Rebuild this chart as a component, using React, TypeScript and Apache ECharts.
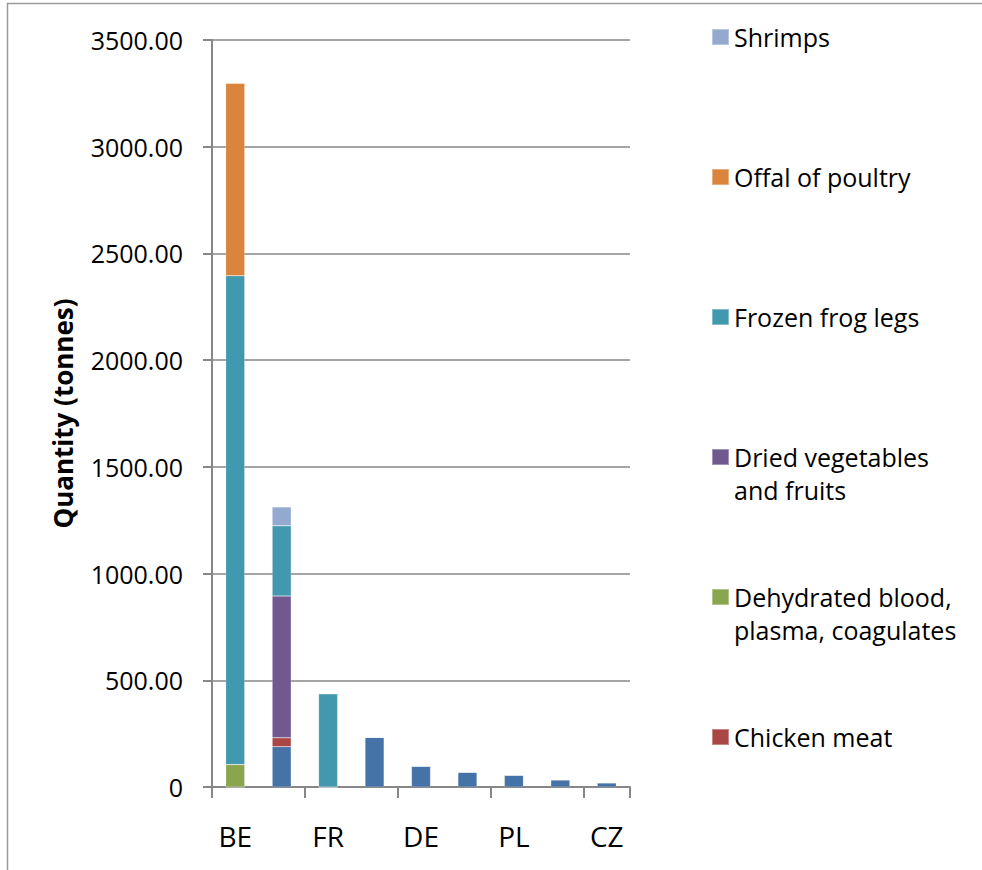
import React, { useEffect, useRef } from "react";
import * as echarts from "echarts";

const categories = ["BE", "NL", "FR", "IT", "DE", "ES", "PL", "AT", "CZ"];
const otherProducts = [0, 189, 0, 233, 98, 70, 56, 34, 20];
const chickenMeat = [0, 42, 0, 0, 0, 0, 0, 0, 0];
const dehydratedBlood = [105, 0, 0, 0, 0, 0, 0, 0, 0];
const driedVegetables = [0, 664, 0, 0, 0, 0, 0, 0, 0];
const frozenFrogLegs = [2290, 329, 437, 0, 0, 0, 0, 0, 0];
const offalOfPoultry = [902, 0, 0, 0, 0, 0, 0, 0, 0];
const shrimps = [0, 88, 0, 0, 0, 0, 0, 0, 0];

const FONT = "'Open Sans', 'Liberation Sans', sans-serif";

export default function App() {
  const ref = useRef<HTMLDivElement>(null);
  useEffect(() => {
    document.body.style.margin = "0";
    const chart = echarts.init(ref.current!, null, { renderer: "svg" });

    const seriesDefs = [
      { name: "Other products", data: otherProducts, color: "#4572A7" },
      { name: "Chicken meat", data: chickenMeat, color: "#AA4643" },
      { name: "Dehydrated blood,\nplasma, coagulates", data: dehydratedBlood, color: "#89A54E" },
      { name: "Dried vegetables\nand fruits", data: driedVegetables, color: "#71588F" },
      { name: "Frozen frog legs", data: frozenFrogLegs, color: "#4198AF" },
      { name: "Offal of poultry", data: offalOfPoultry, color: "#DB843D" },
      { name: "Shrimps", data: shrimps, color: "#93A9CF" },
    ];

    const legendItems = [
      { name: "Shrimps", cy: 37, lines: 1 },
      { name: "Offal of poultry", cy: 177, lines: 1 },
      { name: "Frozen frog legs", cy: 317, lines: 1 },
      { name: "Dried vegetables\nand fruits", cy: 457, lines: 2 },
      { name: "Dehydrated blood,\nplasma, coagulates", cy: 597, lines: 2 },
      { name: "Chicken meat", cy: 737, lines: 1 },
    ];
    const LH = 33;

    chart.setOption({
      animation: false,
      color: seriesDefs.map((s) => s.color),
      grid: { left: 212, top: 40, right: 352, bottom: 83, containLabel: false },
      legend: legendItems.map((it) => ({
        show: true,
        orient: "vertical",
        left: 711,
        top: it.lines === 1 ? it.cy - LH / 2 : it.cy - (LH * 3) / 2,
        padding: 0,
        itemWidth: 17,
        itemHeight: 16,
        icon: "rect",
        selectedMode: false,
        data: [it.name],
        formatter: (name: string) => (it.lines === 1 ? name : "\n" + name),
        textStyle: {
          fontFamily: FONT,
          fontSize: 25,
          color: "#000",
          lineHeight: LH,
        },
      })),
      xAxis: {
        type: "category",
        data: categories,
        axisLine: { lineStyle: { color: "#878787", width: 2 } },
        axisTick: { show: true, length: 11, lineStyle: { color: "#878787", width: 2 } },
        axisLabel: { interval: 1, margin: 35, fontFamily: FONT, fontSize: 28, color: "#000" },
      },
      yAxis: {
        type: "value",
        min: 0,
        max: 3500,
        interval: 500,
        name: "Quantity (tonnes)",
        nameLocation: "middle",
        nameRotate: 90,
        nameGap: 136,
        nameTextStyle: { fontFamily: FONT, fontSize: 26, fontWeight: "bold", color: "#000" },
        axisLine: { show: true, lineStyle: { color: "#878787", width: 2 } },
        axisTick: { show: true, length: 9, lineStyle: { color: "#878787", width: 2 } },
        splitLine: { show: true, lineStyle: { color: "#878787", width: 1.5 } },
        axisLabel: {
          margin: 29,
          fontFamily: FONT,
          fontSize: 25,
          color: "#000",
          formatter: (v: number) => (v === 0 ? "0" : v.toFixed(2)),
        },
      },
      graphic: [
        {
          type: "rect",
          silent: true,
          shape: { x: 7.5, y: 3.5, width: 1100, height: 1000 },
          style: { fill: "none", stroke: "#9a9a9a", lineWidth: 1.5 },
        },
      ],
      series: seriesDefs.map((s) => ({
        name: s.name,
        type: "bar",
        stack: "total",
        barWidth: 19,
        data: s.data,
        itemStyle: { color: s.color, borderColor: "rgba(255,255,255,0.35)", borderWidth: 0.5 },
      })),
    });
    return () => chart.dispose();
  }, []);
  return <div ref={ref} style={{ width: 982, height: 870 }} />;
}
